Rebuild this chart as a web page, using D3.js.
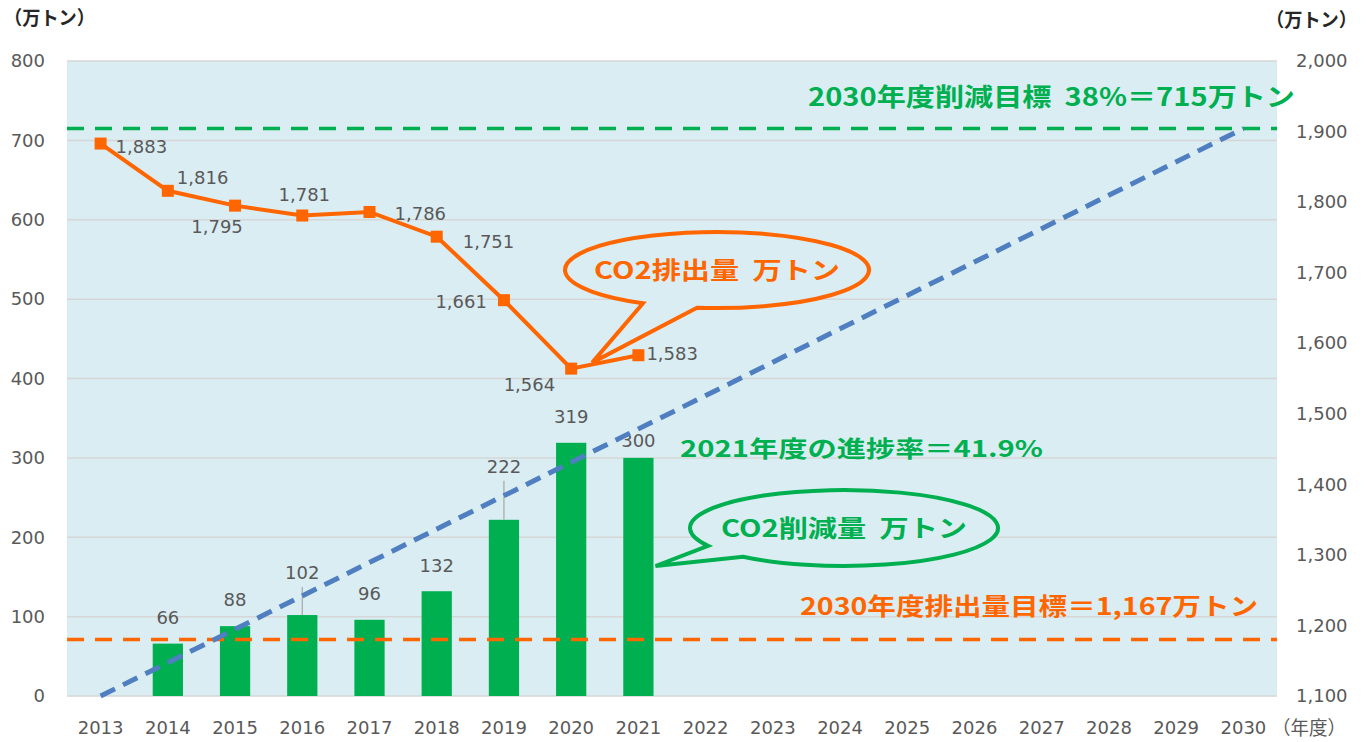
<!DOCTYPE html>
<html>
<head>
<meta charset="utf-8">
<script src="https://cdn.jsdelivr.net/npm/d3@7"></script>
<style>
  body { margin: 0; background: #fff; }
  text { font-family: "DejaVu Sans", sans-serif; }
  .jp { font-family: "Noto Sans CJK JP", sans-serif; white-space: pre; }
</style>
</head>
<body>
<div id="container"></div>
<script>
// data
const years = ["2013", "2014", "2015", "2016", "2017", "2018", "2019", "2020", "2021",
               "2022", "2023", "2024", "2025", "2026", "2027", "2028", "2029", "2030"];
const reductionYears = ["2014", "2015", "2016", "2017", "2018", "2019", "2020", "2021"];
const reductionValues = [66, 88, 102, 96, 132, 222, 319, 300];
const emissionYears = ["2013", "2014", "2015", "2016", "2017", "2018", "2019", "2020", "2021"];
const emissionValues = [1883, 1816, 1795, 1781, 1786, 1751, 1661, 1564, 1583];
const leftTicks = [0, 100, 200, 300, 400, 500, 600, 700, 800];
const rightTicks = [1100, 1200, 1300, 1400, 1500, 1600, 1700, 1800, 1900, 2000];
const reductionTarget = 715;           // green dashed line, left axis
const emissionTargetLine = 1180;       // orange dashed line, right axis (as drawn)
const trendYears = ["2013", "2030"];
const trendValues = [0, 715];

const WIDTH = 1371, HEIGHT = 742;
const margin = { top: 61, bottom: 46, left: 67, right: 94 };
const width = WIDTH - margin.left - margin.right,
      height = HEIGHT - margin.top - margin.bottom;

const GREEN = "#00b050", ORANGE = "#ff6600", BLUE = "#4f7fc0", GREY = "#595959",
      BG = "#daedf3";

const svg = d3.select('#container').append('svg')
    .attr("width", WIDTH).attr("height", HEIGHT);

const g = svg.append('g').attr("transform", `translate(${margin.left},${margin.top})`);

const x = d3.scaleBand().domain(years).range([0, width]).paddingInner(0.55).paddingOuter(0.275);
const xc = (d) => x(d) + x.bandwidth() / 2;
const yL = d3.scaleLinear().domain([0, 800]).range([height, 0]);
const yR = d3.scaleLinear().domain([1100, 2000]).range([height, 0]);

// plot background
g.append("rect").attr("width", width).attr("height", height).attr("fill", BG);

// gridlines
g.append("g").selectAll("line").data(leftTicks).join("line")
    .attr("x1", 0).attr("x2", width)
    .attr("y1", (d) => yL(d)).attr("y2", (d) => yL(d))
    .attr("stroke", "#d6d6d6").attr("stroke-width", 1.5);

// axes
const xAxis = g.append("g").attr("transform", `translate(0,${height})`)
    .call(d3.axisBottom(x).tickSize(0).tickPadding(29));
const yAxisL = g.append("g").call(d3.axisLeft(yL).tickValues(leftTicks).tickSize(0).tickPadding(22));
const yAxisR = g.append("g").attr("transform", `translate(${width},0)`)
    .call(d3.axisRight(yR).tickValues(rightTicks).tickSize(0).tickPadding(19).tickFormat(d3.format(",")));
[xAxis, yAxisL, yAxisR].forEach((a) => {
    a.select(".domain").remove();
    a.selectAll("text").attr("fill", GREY).style("font-size", "18px")
        .style("font-family", "DejaVu Sans, sans-serif");
});
xAxis.selectAll("text").attr("dy", "0.5em");

// axis unit labels
svg.append("text").attr("class", "jp").attr("x", 4).attr("y", 25)
    .attr("font-size", 19).attr("font-weight", "bold").attr("fill", "#262626")
    .attr("textLength", 91).attr("lengthAdjust", "spacingAndGlyphs").text("（万トン）");
svg.append("text").attr("class", "jp").attr("x", 1266).attr("y", 27)
    .attr("font-size", 19).attr("font-weight", "bold").attr("fill", "#262626")
    .attr("textLength", 91).attr("lengthAdjust", "spacingAndGlyphs").text("（万トン）");
svg.append("text").attr("class", "jp").attr("x", 1272).attr("y", 735)
    .attr("font-size", 19).attr("fill", GREY)
    .attr("textLength", 74).attr("lengthAdjust", "spacingAndGlyphs").text("（年度）");

// bars
g.append("g").selectAll("rect").data(reductionValues).join("rect")
    .attr("x", (d, i) => x(reductionYears[i]))
    .attr("width", x.bandwidth())
    .attr("y", (d) => yL(d))
    .attr("height", (d) => height - yL(d))
    .attr("fill", GREEN);

// bar labels (some lifted with a leader line)
const barLabelLift = { "2016": 42, "2019": 53, "2021": 17 };
reductionValues.forEach((v, i) => {
    const yr = reductionYears[i];
    const lift = barLabelLift[yr] || 26;
    if (lift > 30) {
        g.append("line").attr("x1", xc(yr)).attr("x2", xc(yr))
            .attr("y1", yL(v)).attr("y2", yL(v) - lift + 14)
            .attr("stroke", "#a6a6a6").attr("stroke-width", 1.2);
    }
    g.append("text").attr("x", xc(yr)).attr("y", yL(v) - lift)
        .attr("dy", "0.35em").attr("text-anchor", "middle")
        .attr("font-size", 18).attr("fill", GREY).text(v);
});

// reference lines
g.append("line").attr("x1", 0).attr("x2", width)
    .attr("y1", yL(reductionTarget)).attr("y2", yL(reductionTarget))
    .attr("stroke", GREEN).attr("stroke-width", 3.5).attr("stroke-dasharray", "17 11");
g.append("line").attr("x1", 0).attr("x2", width)
    .attr("y1", yR(emissionTargetLine)).attr("y2", yR(emissionTargetLine))
    .attr("stroke", ORANGE).attr("stroke-width", 3.5).attr("stroke-dasharray", "17 11");

// trend line
g.append("path")
    .datum(trendValues)
    .attr("d", d3.line().x((d, i) => xc(trendYears[i])).y((d) => yL(d)))
    .attr("fill", "none").attr("stroke", BLUE).attr("stroke-width", 5)
    .attr("stroke-dasharray", "16 9");

// emissions line
g.append("path")
    .datum(emissionValues)
    .attr("d", d3.line().x((d, i) => xc(emissionYears[i])).y((d) => yR(d)))
    .attr("fill", "none").attr("stroke", ORANGE).attr("stroke-width", 4);
g.append("g").selectAll("rect").data(emissionValues).join("rect")
    .attr("x", (d, i) => xc(emissionYears[i]) - 6)
    .attr("y", (d) => yR(d) - 6)
    .attr("width", 12).attr("height", 12).attr("fill", ORANGE);

// emission labels
const emLabelPos = [
    ["start", 15, 3], ["start", 9, -13], ["middle", -18, 21], ["middle", 2, -21],
    ["start", 25, 2], ["start", 26, 5], ["end", -17, 2], ["end", -16, 16], ["start", 8, -2]
];
emissionValues.forEach((v, i) => {
    const [anchor, dx, dy] = emLabelPos[i];
    g.append("text").attr("x", xc(emissionYears[i]) + dx).attr("y", yR(v) + dy)
        .attr("dy", "0.35em").attr("text-anchor", anchor)
        .attr("font-size", 18).attr("fill", GREY).text(d3.format(",")(v));
});

// speech-bubble callouts: ellipse with a tail, one outline
function callout(cx, cy, rx, ry, bx1, bx2, tip, color, label, tl) {
    const onEllipse = (bx) => [bx, cy + ry * Math.sqrt(1 - ((bx - cx) / rx) ** 2)];
    const b1 = onEllipse(bx1), b2 = onEllipse(bx2);
    const d = `M${b1}L${tip}L${b2}A${rx},${ry} 0 1 0 ${b1}Z`;
    svg.append("path").attr("d", d)
        .attr("fill", BG).attr("stroke", color).attr("stroke-width", 4)
        .attr("stroke-linejoin", "miter");
    svg.append("text").attr("class", "jp").attr("x", cx).attr("y", cy)
        .attr("dy", "0.36em").attr("text-anchor", "middle")
        .attr("font-size", 24).attr("font-weight", "bold").attr("fill", color)
        .attr("textLength", tl).attr("lengthAdjust", "spacingAndGlyphs").text(label);
}
const tip2020 = [margin.left + xc("2020") + 21, margin.top + yR(1564) - 6];
callout(717, 270, 152, 38, 643, 697, tip2020, ORANGE, "CO2排出量  万トン", 246);
const tip2021 = [margin.left + xc("2021") + x.bandwidth() / 2 + 2, 566];
callout(844, 528, 154, 38, 708, 743, tip2021, GREEN, "CO2削減量  万トン", 246);

// annotations
function note(x0, yc, text, color, size, tl) {
    svg.append("text").attr("class", "jp").attr("x", x0).attr("y", yc)
        .attr("dy", "0.36em").attr("font-size", size).attr("font-weight", "bold")
        .attr("fill", color).attr("textLength", tl).attr("lengthAdjust", "spacingAndGlyphs")
        .text(text);
}
note(808, 97, "2030年度削減目標  38%＝715万トン", GREEN, 25, 487);
note(680, 449, "2021年度の進捗率＝41.9%", GREEN, 23, 363);
note(800, 606, "2030年度排出量目標＝1,167万トン", ORANGE, 24, 458);
</script>
</body>
</html>
